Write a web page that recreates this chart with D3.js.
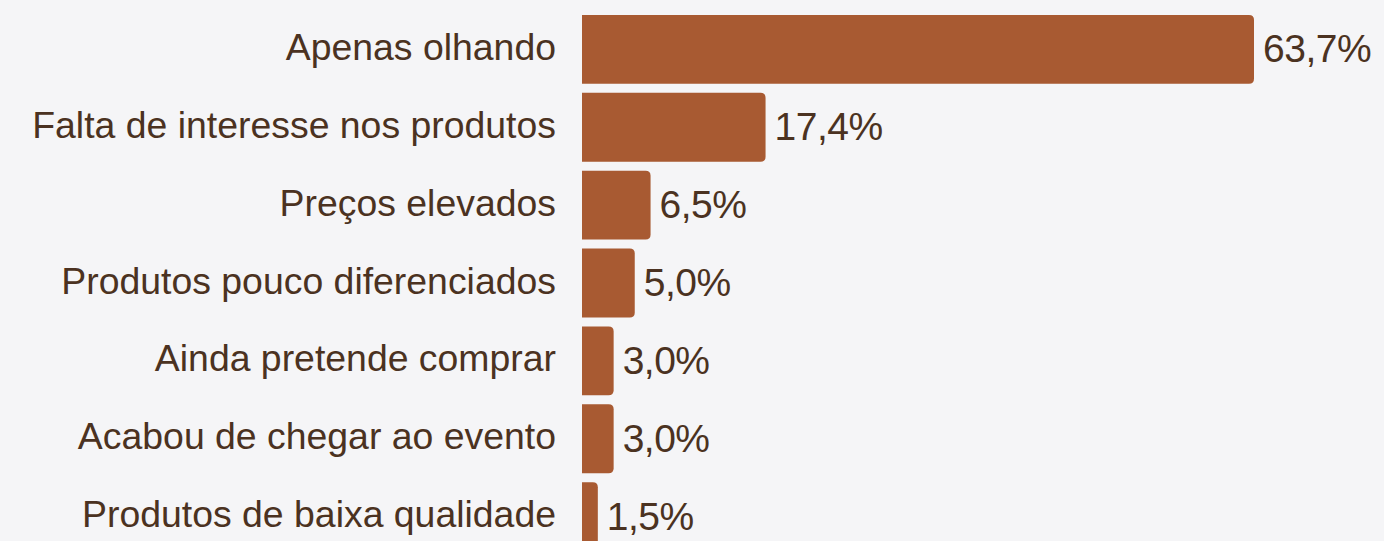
<!DOCTYPE html>
<html>
<head>
<meta charset="utf-8">
<script src="https://cdn.jsdelivr.net/npm/d3@7"></script>
<style>
  html, body { margin: 0; padding: 0; background: #f5f5f7; }
</style>
</head>
<body>
<div id="chart"></div>
<script>
// chart data
var categories = [
  "Apenas olhando",
  "Falta de interesse nos produtos",
  "Preços elevados",
  "Produtos pouco diferenciados",
  "Ainda pretende comprar",
  "Acabou de chegar ao evento",
  "Produtos de baixa qualidade"
];
var values = [63.7, 17.4, 6.5, 5.0, 3.0, 3.0, 1.5];
var valueLabels = ["63,7%", "17,4%", "6,5%", "5,0%", "3,0%", "3,0%", "1,5%"];

var width = 1384;
var height = 541;
var barLeft = 582;
var barRight = 1254;
var radius = 5;

var data = categories.map(function (c, i) {
  return { name: c, value: values[i], label: valueLabels[i] };
});

var svg = d3.select("#chart")
  .append("svg")
  .attr("width", width)
  .attr("height", height);

svg.append("rect")
  .attr("width", width)
  .attr("height", height)
  .attr("fill", "#f5f5f7");

var x = d3.scaleLinear()
  .domain([0, d3.max(values)])
  .range([barLeft, barRight]);

var y = d3.scaleBand()
  .domain(categories)
  .range([6, 560])
  .padding(0.115);

// bars, square on the left, rounded on the right
function barPath(d) {
  var x0 = x(0), x1 = x(d.value), y0 = y(d.name), h = y.bandwidth();
  var r = Math.min(radius, (x1 - x0) / 2);
  return "M" + x0 + "," + y0 +
    "H" + (x1 - r) +
    "Q" + x1 + "," + y0 + " " + x1 + "," + (y0 + r) +
    "V" + (y0 + h - r) +
    "Q" + x1 + "," + (y0 + h) + " " + (x1 - r) + "," + (y0 + h) +
    "H" + x0 + "Z";
}

svg.selectAll("path.bar")
  .data(data)
  .enter()
  .append("path")
  .attr("class", "bar")
  .attr("d", barPath)
  .attr("fill", "#a85a32");

// category labels
svg.selectAll("text.cat")
  .data(data)
  .enter()
  .append("text")
  .attr("class", "cat")
  .attr("x", barLeft - 26)
  .attr("y", d => y(d.name) + y.bandwidth() / 2 + 10.5)
  .attr("text-anchor", "end")
  .style("font-family", "'Liberation Sans', Arial, sans-serif")
  .style("font-size", "37.4px")
  .style("fill", "#4b3221")
  .text(d => d.name);

// value labels
svg.selectAll("text.val")
  .data(data)
  .enter()
  .append("text")
  .attr("class", "val")
  .attr("x", d => x(d.value) + 9)
  .attr("y", d => y(d.name) + y.bandwidth() / 2 + 13)
  .style("font-family", "'Liberation Sans', Arial, sans-serif")
  .style("font-size", "39px")
  .style("letter-spacing", "-0.5px")
  .style("fill", "#4b3221")
  .text(d => d.label);
</script>
</body>
</html>
